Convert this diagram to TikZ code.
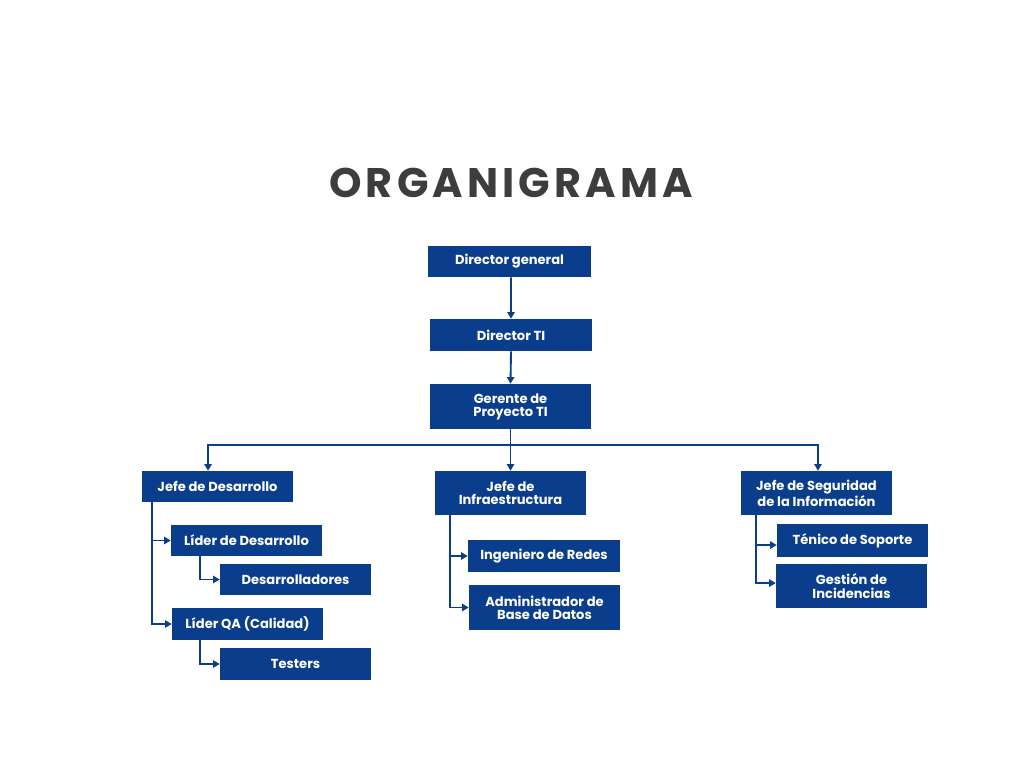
\documentclass[tikz,border=0pt]{standalone}
\usepackage{fontspec}
\setmainfont{Poppins}
\newfontfamily\titlefont[LetterSpace=10]{Poppins}
\usetikzlibrary{arrows.meta}
\definecolor{navy}{RGB}{10,61,140}
\definecolor{titlegray}{RGB}{61,61,63}
\begin{document}
\begin{tikzpicture}[x=0.75pt,y=-0.75pt,
  box/.style={fill=navy,text=white,inner sep=0pt,align=center,
    font=\fontsize{9.8}{9.9}\selectfont\bfseries},
  w/.style={minimum width=#1*0.75pt},
  h/.style={minimum height=#1*0.75pt},
  arr/.style={draw=navy,line width=1.4pt,-{Triangle[length=5pt,width=5.5pt]}},
  link/.style={draw=navy,line width=1.4pt}]
\useasboundingbox[fill=white] (0,0) rectangle (1024,768);

% title
\node[text=titlegray,font=\titlefont\fontsize{31}{31}\selectfont\bfseries] (title) at (511,183) {ORGANIGRAMA};

% top of the chart
\node[box,w=163,h=31] (dg) at (509.5,261.5) {Director general};
\node[box,w=162,h=32] (dti) at (511,335) {Director TI};
\node[box,w=161,h=45] (gp) at (510.5,406.5) {Gerente de\\Proyecto TI};

% heads of area
\node[box,w=151,h=31] (jd) at (217.5,486.5) {Jefe de Desarrollo};
\node[box,w=151,h=44] (ji) at (510.5,493) {Jefe de\\Infraestructura};
\node[box,w=151,h=44] (js) at (816.5,493) {Jefe de Seguridad\\de la Información};

% development
\node[box,w=151,h=31] (ld) at (246.5,540.5) {Líder de Desarrollo};
\node[box,w=151,h=31] (des) at (295.5,579.5) {Desarrolladores};
\node[box,w=151,h=32] (lqa) at (247.5,624) {Líder QA (Calidad)};
\node[box,w=151,h=32] (tes) at (295.5,664) {Testers};

% infrastructure
\node[box,w=152,h=32] (ir) at (544,556) {Ingeniero de Redes};
\node[box,w=151,h=45] (abd) at (544.5,607.5) {Administrador de\\Base de Datos};

% security
\node[box,w=151,h=33] (ts) at (852.5,540.5) {Ténico de Soporte};
\node[box,w=151,h=44] (gi) at (851.5,586) {Gestión de\\Incidencias};

% connectors
\coordinate (bus) at (510.5,445);
\draw[arr] ([xshift=1.1pt]dg.south) -- (dti.north);
\draw[arr] (dti.south) -- (gp.north);
\draw[link] (gp.south) -- (bus);
\draw[arr] (bus) -| ([xshift=-7.1pt]jd.north);
\draw[arr] (bus) -- (ji.north);
\draw[arr] (bus) -| ([xshift=1.1pt]js.north);

\draw[arr] ([xshift=7.5pt]jd.south west) |- (ld.west);
\draw[arr] ([xshift=7.5pt]jd.south west) |- (lqa.west);
\draw[arr] ([xshift=21.75pt]ld.south west) |- (des.west);
\draw[arr] ([xshift=21pt]lqa.south west) |- (tes.west);

\draw[arr] ([xshift=11.25pt]ji.south west) |- (ir.west);
\draw[arr] ([xshift=11.25pt]ji.south west) |- (abd.west);

\draw[arr] ([xshift=11.25pt]js.south west) |- ([yshift=-3.4pt]ts.west);
\draw[arr] ([xshift=11.25pt]js.south west) |- ([yshift=2.2pt]gi.west);
\end{tikzpicture}
\end{document}
